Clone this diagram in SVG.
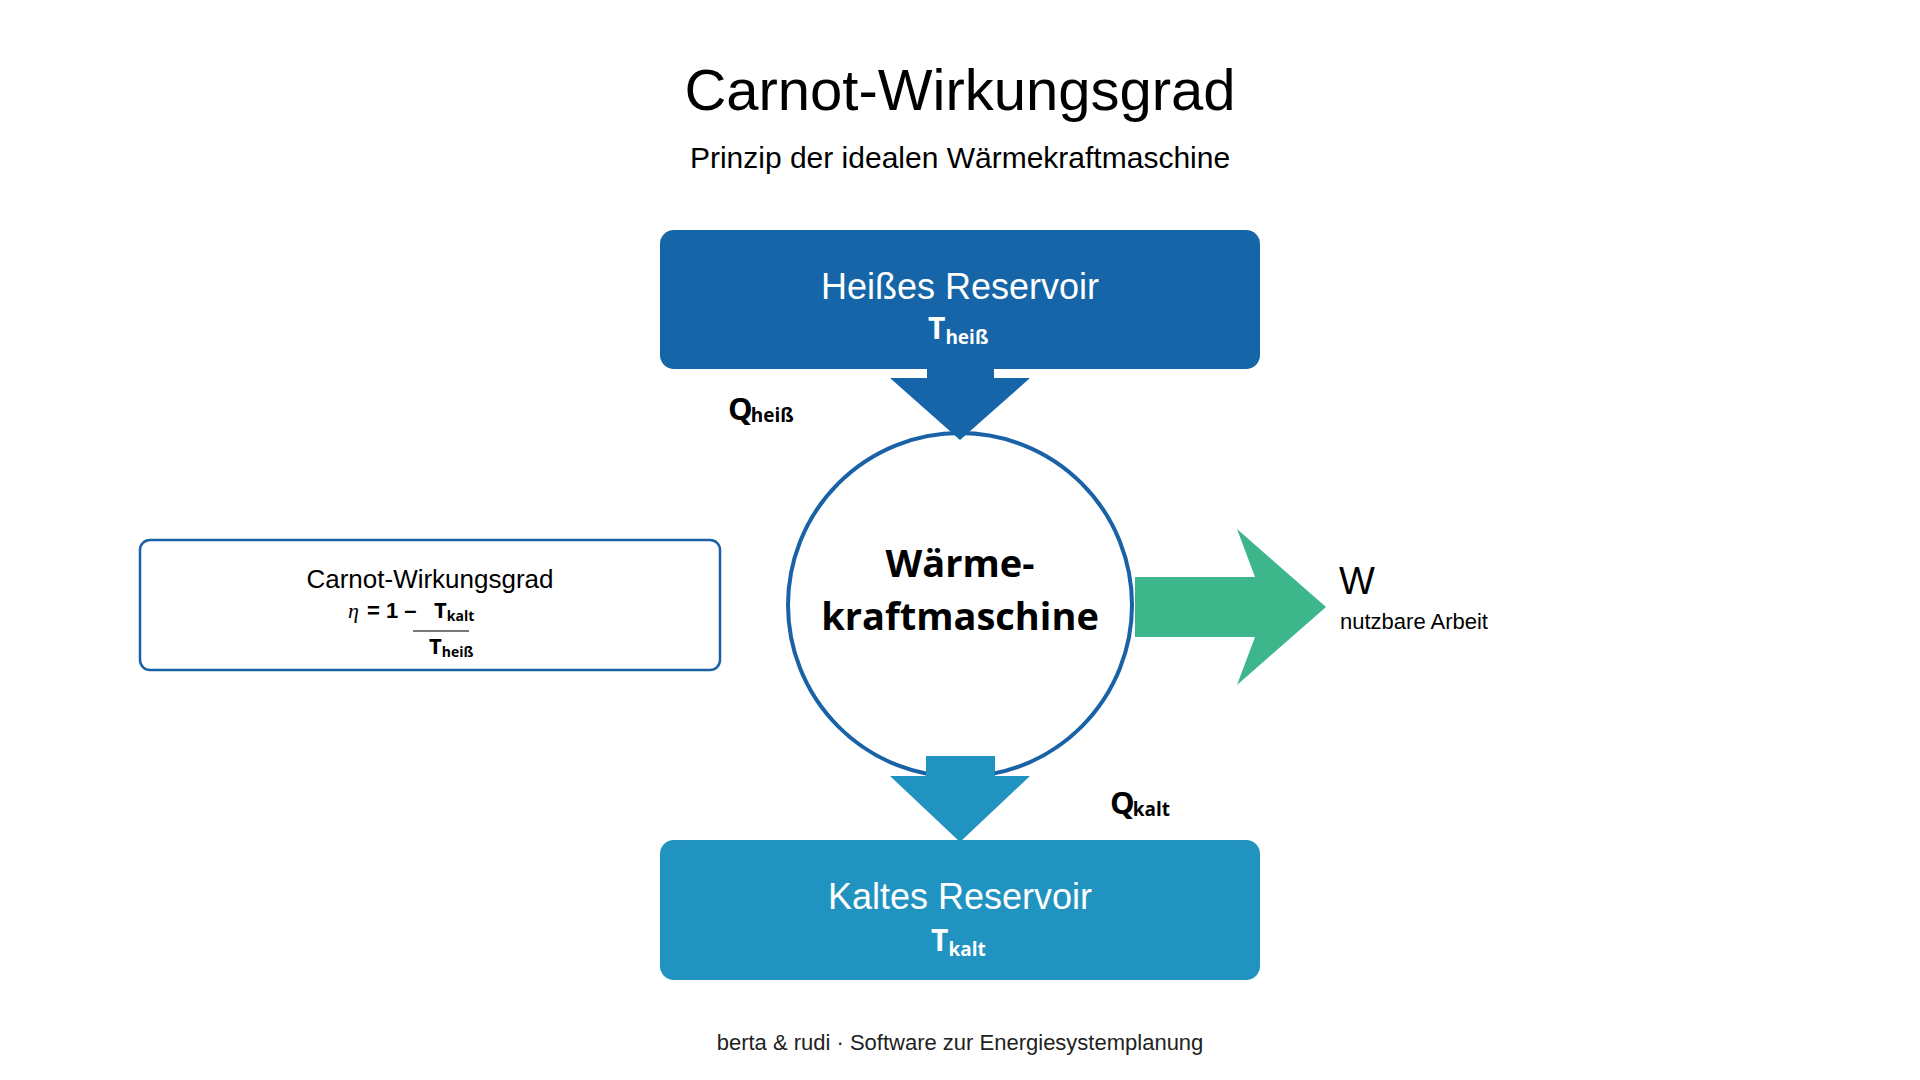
<svg xmlns="http://www.w3.org/2000/svg" width="1920" height="1080" viewBox="0 0 1920 1080">
<style>
.sans{font-family:"Liberation Sans",Arial,sans-serif}
.round{font-family:"Open Sans","Noto Sans",sans-serif;font-weight:700}
.white{fill:#ffffff}
.black{fill:#000000}
</style>
<rect width="1920" height="1080" fill="#ffffff"/>
<g id="title">
<text class="sans black" x="960" y="110" font-size="58" text-anchor="middle">Carnot-Wirkungsgrad</text>
<text class="sans black" x="960" y="168" font-size="30" text-anchor="middle">Prinzip der idealen Wärmekraftmaschine</text>
</g>
<g id="hot-reservoir">
<rect x="660" y="230" width="600" height="139" rx="14" fill="#1565a8"/>
<text class="sans white" x="960" y="299" font-size="36" text-anchor="middle">Heißes Reservoir</text>
<text class="round white" x="928" y="339" font-size="30">T<tspan font-size="19" dy="5">heiß</tspan></text>
</g>
<g id="q-hot">
<text class="round black" x="728" y="420" font-size="31">Q<tspan font-size="19" dx="-2" dy="2">heiß</tspan></text>
</g>
<g id="engine">
<circle cx="960" cy="605" r="172" fill="#ffffff" stroke="#1a62a6" stroke-width="4"/>
<text class="round black" x="960" y="577" font-size="38" text-anchor="middle">Wärme-</text>
<text class="round black" x="960" y="630" font-size="38" text-anchor="middle">kraftmaschine</text>
</g>
<g id="connectors">
<polygon id="arrow-hot" fill="#1565a8" points="927,367 994,367 994,378 1030,378 960,440 890,378 927,378"/>
<polygon id="arrow-cold" fill="#2193c0" points="926,756 995,756 995,776 1030,776 960,842 890,776 926,776"/>
<polygon id="arrow-work" fill="#3cb68a" points="1135,577 1255,577 1237,529 1326,607 1237,685 1255,637 1135,637"/>
</g>
<g id="work">
<text class="sans black" x="1339" y="594" font-size="38">W</text>
<text class="sans black" x="1340" y="629" font-size="22">nutzbare Arbeit</text>
</g>
<g id="q-cold">
<text class="round black" x="1110" y="814" font-size="31">Q<tspan font-size="19" dx="-2" dy="2">kalt</tspan></text>
</g>
<g id="cold-reservoir">
<rect x="660" y="840" width="600" height="140" rx="14" fill="#2193c0"/>
<text class="sans white" x="960" y="909" font-size="36" text-anchor="middle">Kaltes Reservoir</text>
<text class="round white" x="931" y="951" font-size="30">T<tspan font-size="19" dy="5">kalt</tspan></text>
</g>
<g id="formula-box">
<rect x="140" y="540" width="580" height="130" rx="10" fill="#ffffff" stroke="#1a62a6" stroke-width="2.5"/>
<text class="sans black" x="430" y="588" font-size="26" text-anchor="middle">Carnot-Wirkungsgrad</text>
<text x="348" y="618" font-size="22" font-style="italic" font-family="'Liberation Serif',serif" fill="#000">η</text>
<text class="sans" x="367" y="618" font-size="22" font-weight="700" fill="#000">= 1 –</text>
<text class="round black" x="434" y="618" font-size="22">T<tspan font-size="14" dy="3">kalt</tspan></text>
<line x1="413" y1="631" x2="469" y2="631" stroke="#777777" stroke-width="2"/>
<text class="round black" x="429" y="654" font-size="22">T<tspan font-size="14" dy="3">heiß</tspan></text>
</g>
<g id="footer">
<text class="sans" x="960" y="1050" font-size="22" text-anchor="middle" fill="#222222">berta &amp; rudi · Software zur Energiesystemplanung</text>
</g>
</svg>
